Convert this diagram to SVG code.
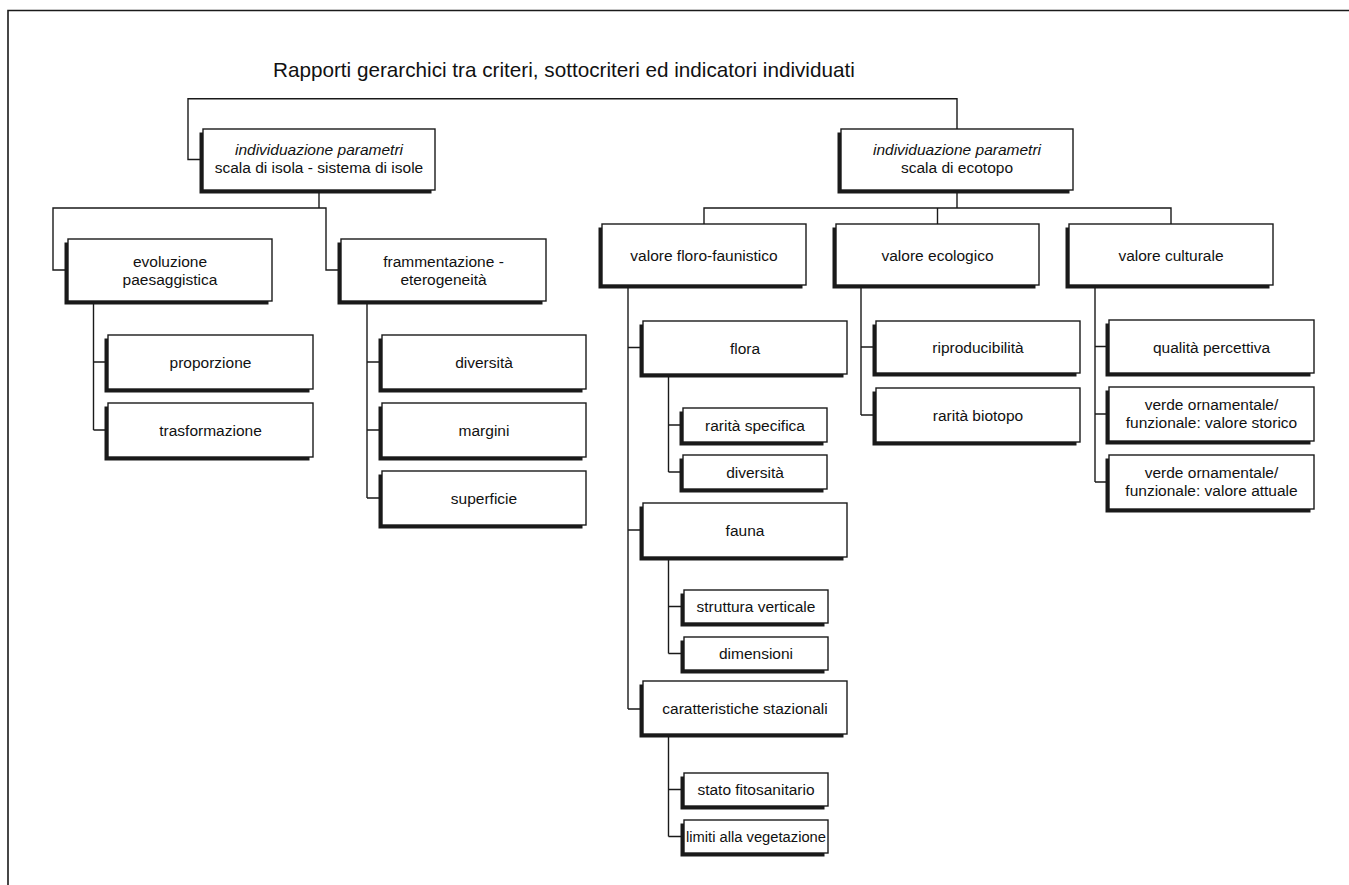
<svg xmlns="http://www.w3.org/2000/svg" width="1349" height="885" viewBox="0 0 1349 885">
<style>
  .frame{fill:none;stroke:#1a1a1a;stroke-width:1.6}
  .conn path{fill:none;stroke:#1a1a1a;stroke-width:1.4}
  .sh{fill:#1a1a1a}
  .bx{fill:#ffffff;stroke:#1a1a1a;stroke-width:1.4}
  text{font-family:"Liberation Sans",Arial,Helvetica,sans-serif;fill:#111;text-anchor:middle;font-size:15.5px}
  .title{text-anchor:start;font-size:20.7px}
  .it{font-style:italic}
</style>
<defs>
  <filter id="none"/>
</defs>
<rect x="0" y="0" width="1349" height="885" fill="#ffffff"/>
<path class="frame" d="M8,885 V10.5 H1349"/>
<text class="title" x="273" y="77">Rapporti gerarchici tra criteri, sottocriteri ed indicatori individuati</text>

<g id="connectors" class="conn">
  <path d="M203,159.5 H188 V98.7 H957 V129"/>
  <path d="M319,190 V208 M68,270 H53 V208 H326 V270 H341"/>
  <path d="M93.5,301 V430 M93.5,362 H108 M93.5,430 H108"/>
  <path d="M367,301 V498 M367,362 H382 M367,430 H382 M367,498 H382"/>
  <path d="M957,190 V208 M704,224 V208 H1171 V224 M937.5,208 V224"/>
  <path d="M628,285 V709 M628,347.5 H643 M628,530 H643 M628,709 H643"/>
  <path d="M668.5,374 V472 M668.5,425 H683 M668.5,472 H683"/>
  <path d="M668.5,557 V653.5 M668.5,606.5 H684 M668.5,653.5 H684"/>
  <path d="M668.5,734 V836.5 M668.5,789.5 H684 M668.5,836.5 H684"/>
  <path d="M861,285 V415 M861,347 H876 M861,415 H876"/>
  <path d="M1095,285 V482 M1095,346.5 H1109 M1095,414 H1109 M1095,482 H1109"/>
</g>

<g id="isola">
  <rect class="sh" x="199.5" y="132.5" width="232" height="61"/>
  <rect class="bx" x="203" y="129" width="232" height="61"/>
  <text class="it" x="319" y="155">individuazione parametri</text>
  <text x="319" y="173">scala di isola - sistema di isole</text>
</g>
<g id="ecotopo">
  <rect class="sh" x="837.5" y="132.5" width="232" height="61"/>
  <rect class="bx" x="841" y="129" width="232" height="61"/>
  <text class="it" x="957" y="155">individuazione parametri</text>
  <text x="957" y="173">scala di ecotopo</text>
</g>

<g id="evoluzione">
  <rect class="sh" x="64.5" y="242.5" width="204" height="62"/>
  <rect class="bx" x="68" y="239" width="204" height="62"/>
  <text x="170" y="266.5">evoluzione</text>
  <text x="170" y="284.5">paesaggistica</text>
</g>
<g id="frammentazione">
  <rect class="sh" x="337.5" y="242.5" width="205" height="62"/>
  <rect class="bx" x="341" y="239" width="205" height="62"/>
  <text x="443.5" y="266.5">frammentazione -</text>
  <text x="443.5" y="284.5">eterogeneità</text>
</g>

<g id="proporzione">
  <rect class="sh" x="104.5" y="338.5" width="205" height="54"/>
  <rect class="bx" x="108" y="335" width="205" height="54"/>
  <text x="210.5" y="368">proporzione</text>
</g>
<g id="trasformazione">
  <rect class="sh" x="104.5" y="406.5" width="205" height="54"/>
  <rect class="bx" x="108" y="403" width="205" height="54"/>
  <text x="210.5" y="436">trasformazione</text>
</g>
<g id="diversita-l">
  <rect class="sh" x="378.5" y="338.5" width="204" height="54"/>
  <rect class="bx" x="382" y="335" width="204" height="54"/>
  <text x="484" y="368">diversità</text>
</g>
<g id="margini">
  <rect class="sh" x="378.5" y="406.5" width="204" height="54"/>
  <rect class="bx" x="382" y="403" width="204" height="54"/>
  <text x="484" y="436">margini</text>
</g>
<g id="superficie">
  <rect class="sh" x="378.5" y="474.5" width="204" height="54"/>
  <rect class="bx" x="382" y="471" width="204" height="54"/>
  <text x="484" y="504">superficie</text>
</g>

<g id="floro">
  <rect class="sh" x="598.5" y="227.5" width="204" height="61"/>
  <rect class="bx" x="602" y="224" width="204" height="61"/>
  <text x="704" y="260.5">valore floro-faunistico</text>
</g>
<g id="ecologico">
  <rect class="sh" x="832.5" y="227.5" width="203" height="61"/>
  <rect class="bx" x="836" y="224" width="203" height="61"/>
  <text x="937.5" y="260.5">valore ecologico</text>
</g>
<g id="culturale">
  <rect class="sh" x="1065.5" y="227.5" width="204" height="61"/>
  <rect class="bx" x="1069" y="224" width="204" height="61"/>
  <text x="1171" y="260.5">valore culturale</text>
</g>

<g id="flora">
  <rect class="sh" x="639.5" y="324.5" width="204" height="53"/>
  <rect class="bx" x="643" y="321" width="204" height="53"/>
  <text x="745" y="353.5">flora</text>
</g>
<g id="rarita-specifica">
  <rect class="sh" x="679.5" y="411.5" width="144" height="34"/>
  <rect class="bx" x="683" y="408" width="144" height="34"/>
  <text x="755" y="430.5">rarità specifica</text>
</g>
<g id="diversita-flora">
  <rect class="sh" x="679.5" y="458.5" width="144" height="34"/>
  <rect class="bx" x="683" y="455" width="144" height="34"/>
  <text x="755" y="477.5">diversità</text>
</g>
<g id="fauna">
  <rect class="sh" x="639.5" y="506.5" width="204" height="54"/>
  <rect class="bx" x="643" y="503" width="204" height="54"/>
  <text x="745" y="536">fauna</text>
</g>
<g id="struttura">
  <rect class="sh" x="680.5" y="593.5" width="144" height="33"/>
  <rect class="bx" x="684" y="590" width="144" height="33"/>
  <text x="756" y="612">struttura verticale</text>
</g>
<g id="dimensioni">
  <rect class="sh" x="680.5" y="640.5" width="144" height="33"/>
  <rect class="bx" x="684" y="637" width="144" height="33"/>
  <text x="756" y="659">dimensioni</text>
</g>
<g id="caratteristiche">
  <rect class="sh" x="639.5" y="684.5" width="204" height="53"/>
  <rect class="bx" x="643" y="681" width="204" height="53"/>
  <text x="745" y="713.5">caratteristiche stazionali</text>
</g>
<g id="stato">
  <rect class="sh" x="680.5" y="776.5" width="144" height="33"/>
  <rect class="bx" x="684" y="773" width="144" height="33"/>
  <text x="756" y="795">stato fitosanitario</text>
</g>
<g id="limiti">
  <rect class="sh" x="680.5" y="823.5" width="144" height="33"/>
  <rect class="bx" x="684" y="820" width="144" height="33"/>
  <text x="756" y="842" textLength="140" lengthAdjust="spacingAndGlyphs">limiti alla vegetazione</text>
</g>

<g id="riproducibilita">
  <rect class="sh" x="872.5" y="324.5" width="204" height="52"/>
  <rect class="bx" x="876" y="321" width="204" height="52"/>
  <text x="978" y="353">riproducibilità</text>
</g>
<g id="rarita-biotopo">
  <rect class="sh" x="872.5" y="391.5" width="204" height="54"/>
  <rect class="bx" x="876" y="388" width="204" height="54"/>
  <text x="978" y="421">rarità biotopo</text>
</g>

<g id="qualita">
  <rect class="sh" x="1105.5" y="323.5" width="205" height="53"/>
  <rect class="bx" x="1109" y="320" width="205" height="53"/>
  <text x="1211.5" y="352.5">qualità percettiva</text>
</g>
<g id="storico">
  <rect class="sh" x="1105.5" y="390.5" width="205" height="54"/>
  <rect class="bx" x="1109" y="387" width="205" height="54"/>
  <text x="1211.5" y="410">verde ornamentale/</text>
  <text x="1211.5" y="428">funzionale: valore storico</text>
</g>
<g id="attuale">
  <rect class="sh" x="1105.5" y="458.5" width="205" height="54"/>
  <rect class="bx" x="1109" y="455" width="205" height="54"/>
  <text x="1211.5" y="478">verde ornamentale/</text>
  <text x="1211.5" y="496">funzionale: valore attuale</text>
</g>
</svg>
